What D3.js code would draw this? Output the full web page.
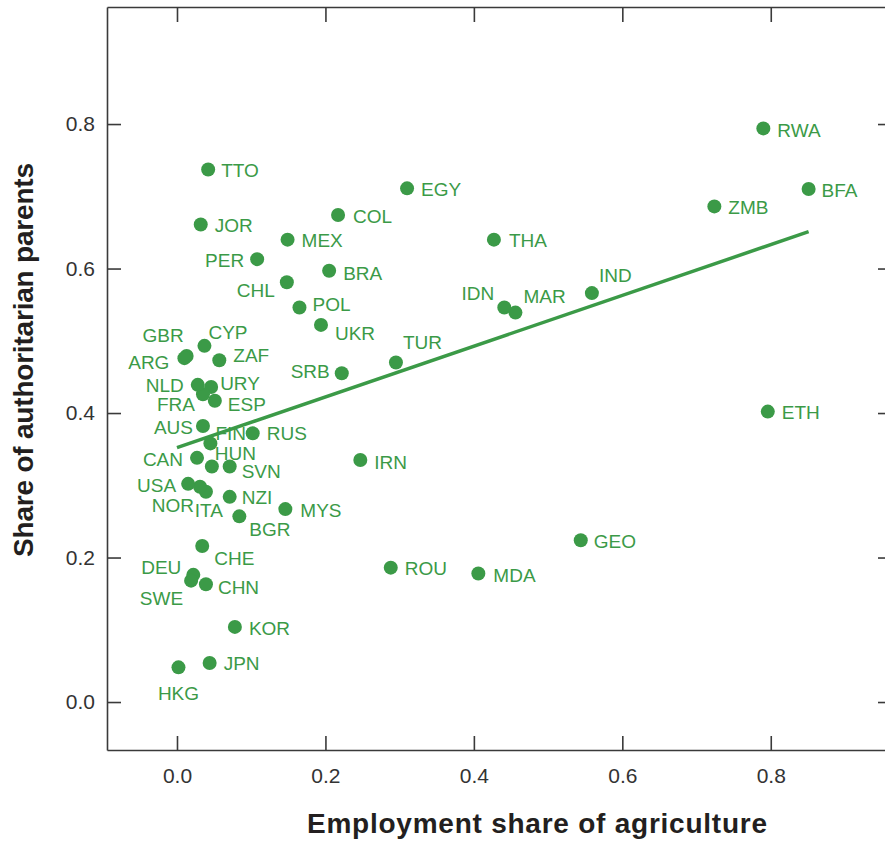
<!DOCTYPE html>
<html><head><meta charset="utf-8">
<script src="https://cdn.jsdelivr.net/npm/d3@7"></script>
<style>html,body{margin:0;padding:0;background:#fff;} svg{display:block}</style>
</head><body>
<svg id="chart" width="885" height="842"></svg>
<script>
// ---- data ----
const countries = ["RWA","BFA","ZMB","ETH","IND","MAR","IDN","THA","GEO","MDA","EGY","TUR","ROU","IRN","SRB","COL","BRA","UKR","POL","CHL","MEX","MYS","PER","RUS","BGR","KOR","SVN","NZI","ZAF","ESP","HUN","URY","JPN","TTO","FIN","CHN","ITA","CYP","FRA","AUS","CHE","JOR","NOR","NLD","CAN","DEU","SWE","USA","GBR","ARG","HKG"];
const agriShare = [0.790,0.851,0.724,0.796,0.559,0.456,0.441,0.427,0.544,0.406,0.310,0.295,0.288,0.247,0.222,0.217,0.205,0.194,0.165,0.148,0.149,0.146,0.108,0.102,0.084,0.078,0.071,0.071,0.057,0.051,0.047,0.046,0.044,0.042,0.045,0.039,0.039,0.037,0.035,0.035,0.034,0.032,0.031,0.028,0.027,0.022,0.019,0.015,0.013,0.010,0.002];
const authShare = [0.794,0.710,0.686,0.402,0.566,0.539,0.546,0.640,0.224,0.178,0.711,0.470,0.186,0.335,0.455,0.674,0.597,0.522,0.546,0.581,0.640,0.267,0.613,0.372,0.257,0.104,0.326,0.284,0.473,0.417,0.326,0.436,0.054,0.737,0.358,0.163,0.291,0.493,0.426,0.382,0.216,0.661,0.298,0.439,0.338,0.176,0.168,0.302,0.479,0.476,0.048];
const xTicks = [0, 0.2, 0.4, 0.6, 0.8];
const yTicks = [0, 0.2, 0.4, 0.6, 0.8];
const fitX = [0, 0.851];
const fitY = [0.352, 0.651];
const xTitle = "Employment share of agriculture";
const yTitle = "Share of authoritarian parents";

// ---- label layout: [anchor, dx, dy] ----
const labelPlace = {
  RWA:["start",14,2], BFA:["start",13,1], ZMB:["start",14,1], ETH:["start",14,1],
  IND:["start",7,-18], MAR:["start",8,-16], IDN:["end",-10,-14], THA:["start",15,1],
  GEO:["start",13,1], MDA:["start",15,2], EGY:["start",14,1], TUR:["start",7,-20],
  ROU:["start",14,1], IRN:["start",14,2], SRB:["end",-12,-2], COL:["start",15,1],
  BRA:["start",14,2], UKR:["start",14,8], POL:["start",13,-3], CHL:["end",-12,8],
  MEX:["start",14,1], MYS:["start",15,1], PER:["end",-13,1], RUS:["start",14,0],
  BGR:["start",10,13], KOR:["start",14,1], SVN:["start",12,5], NZI:["start",12,0],
  ZAF:["start",14,-5], ESP:["start",13,3], HUN:["start",3,-13], URY:["start",9,-4],
  JPN:["start",14,0], TTO:["start",13,1], FIN:["start",5,-10], CHN:["start",12,3],
  ITA:["middle",3,18], CYP:["start",4,-14], FRA:["end",-8,10], AUS:["end",-10,1],
  CHE:["start",12,12], JOR:["start",14,1], NOR:["end",-6,18], NLD:["end",-14,0],
  CAN:["end",-14,1], DEU:["end",-12,-8], SWE:["end",-8,18], USA:["end",-12,1],
  GBR:["end",-3,-21], ARG:["end",-15,4], HKG:["middle",0,26]
};

const green = "#3b9a47";
const frameColor = "#3a3a3a";
const svg = d3.select("#chart");

const x = d3.scaleLinear().domain([-0.0943, 0.962]).range([107, 891]);
const y = d3.scaleLinear().domain([-0.0664, 0.962]).range([750, 7]);

const fmt = d3.format(".1f");

function styleAxis(g){
  g.selectAll("path.domain").attr("stroke", frameColor).attr("stroke-width", 1.6);
  g.selectAll(".tick line").attr("stroke", frameColor).attr("stroke-width", 1.6);
  g.selectAll(".tick text").attr("fill", "#333")
    .style("font-family", "'Liberation Sans', Arial, sans-serif").style("font-size", "21px");
}

svg.append("g").attr("transform","translate(0,750)")
  .call(d3.axisBottom(x).tickValues(xTicks).tickFormat(fmt).tickSize(-14).tickSizeOuter(0).tickPadding(18))
  .call(styleAxis);
svg.append("g").attr("transform","translate(107,0)")
  .call(d3.axisLeft(y).tickValues(yTicks).tickFormat(fmt).tickSize(-14).tickSizeOuter(0).tickPadding(12))
  .call(styleAxis);
svg.append("g").attr("transform","translate(0,7)")
  .call(d3.axisTop(x).tickValues(xTicks).tickFormat("").tickSize(-15).tickSizeOuter(0))
  .call(styleAxis);
svg.append("g").attr("transform","translate(891,0)")
  .call(d3.axisRight(y).tickValues(yTicks).tickFormat("").tickSize(-13).tickSizeOuter(0))
  .call(styleAxis);

// titles
svg.append("text")
  .attr("x", 537).attr("y", 833)
  .attr("text-anchor","middle")
  .attr("textLength", 460).attr("lengthAdjust","spacing")
  .style("font-family","'Liberation Sans', Arial, sans-serif")
  .style("font-weight","bold").style("font-size","28px").attr("fill","#231f20")
  .text(xTitle);
svg.append("text")
  .attr("transform","translate(33,360) rotate(-90)")
  .attr("text-anchor","middle")
  .attr("textLength", 394).attr("lengthAdjust","spacing")
  .style("font-family","'Liberation Sans', Arial, sans-serif")
  .style("font-weight","bold").style("font-size","28px").attr("fill","#231f20")
  .text(yTitle);

const data = countries.map((c,i)=>({c, x:agriShare[i], y:authShare[i]}));

// regression line
svg.append("path")
  .datum(fitX.map((v,i)=>[v, fitY[i]]))
  .attr("d", d3.line().x(d=>x(d[0])).y(d=>y(d[1])))
  .attr("stroke", green).attr("stroke-width", 3.5).attr("fill","none");

// labels
svg.append("g").selectAll("text").data(data).join("text")
  .attr("x", d => x(d.x) + labelPlace[d.c][1])
  .attr("y", d => y(d.y) + labelPlace[d.c][2])
  .attr("dy", "0.36em")
  .attr("text-anchor", d => labelPlace[d.c][0])
  .style("font-family","'Liberation Sans', Arial, sans-serif")
  .style("font-size","19px")
  .attr("fill", green)
  .text(d => d.c);

// points
svg.append("g").selectAll("circle").data(data).join("circle")
  .attr("cx", d => x(d.x)).attr("cy", d => y(d.y)).attr("r", 7)
  .attr("fill", green);
</script>
</body></html>
